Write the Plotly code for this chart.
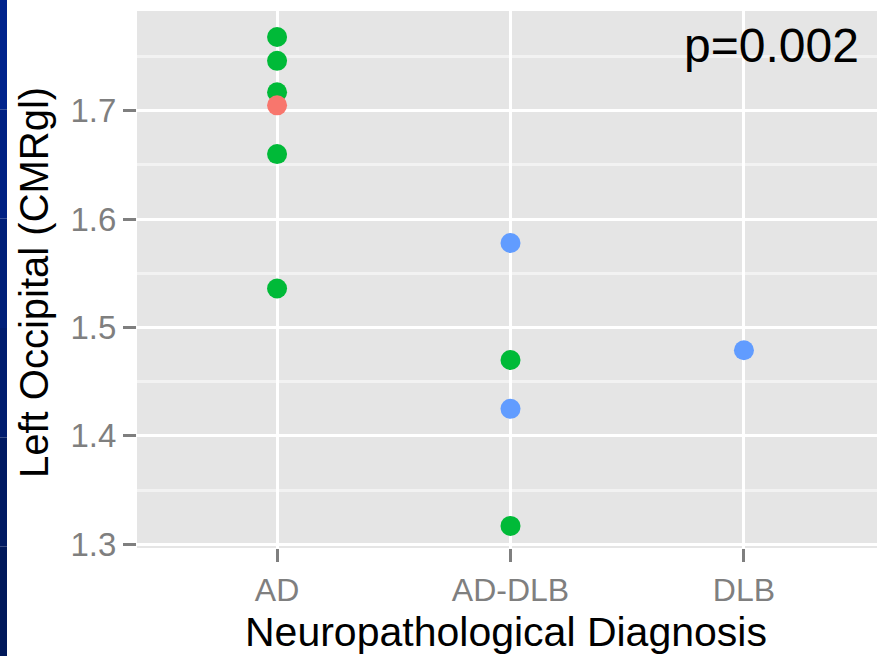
import plotly.graph_objects as go

# ---- data ----
categories = ["AD", "AD-DLB", "DLB"]

green_dx = ["AD", "AD", "AD", "AD", "AD", "AD-DLB", "AD-DLB"]
green_val = [1.768, 1.746, 1.717, 1.660, 1.536, 1.470, 1.317]

blue_dx = ["AD-DLB", "AD-DLB", "DLB"]
blue_val = [1.578, 1.425, 1.479]

red_dx = ["AD"]
red_val = [1.705]

y_ticks = [1.3, 1.4, 1.5, 1.6, 1.7]
y_tick_labels = ["1.3", "1.4", "1.5", "1.6", "1.7"]

p_label = "p=0.002"
x_title = "Neuropathological Diagnosis"
y_title = "Left Occipital (CMRgl)"

FONT = "Arial, Liberation Sans, sans-serif"
W, H = 877, 656
L, R, T, B = 137, 0, 11, 108
PW, PH = W - L - R, H - T - B


def px_x(px):
    return (px - L) / PW


def px_y(py):
    return (H - B - py) / PH


fig = go.Figure()
marker_size = 20
fig.add_trace(go.Scatter(x=green_dx, y=green_val, mode="markers",
                         marker=dict(color="#00BA38", size=marker_size, line=dict(width=0)),
                         showlegend=False, cliponaxis=False))
fig.add_trace(go.Scatter(x=blue_dx, y=blue_val, mode="markers",
                         marker=dict(color="#619CFF", size=marker_size, line=dict(width=0)),
                         showlegend=False, cliponaxis=False))
fig.add_trace(go.Scatter(x=red_dx, y=red_val, mode="markers",
                         marker=dict(color="#F8766D", size=marker_size, line=dict(width=0)),
                         showlegend=False, cliponaxis=False))

fig.update_layout(
    width=W, height=H,
    margin=dict(l=L, r=R, t=T, b=B, pad=0),
    paper_bgcolor="white",
    plot_bgcolor="#E5E5E5",
    font=dict(family=FONT),
    showlegend=False,
)

fig.update_xaxes(
    type="category",
    categoryorder="array", categoryarray=categories,
    range=[-0.6, 2.57],
    showgrid=True, gridcolor="white", gridwidth=3,
    zeroline=False, showline=False,
    ticks="outside", ticklen=13, tickwidth=3, tickcolor="#7F7F7F",
    tickfont=dict(size=32, color="#7F7F7F", family=FONT),
    ticklabelstandoff=1,
)

fig.update_yaxes(
    range=[1.2966, 1.792],
    tickvals=y_ticks, ticktext=y_tick_labels,
    showgrid=True, gridcolor="white", gridwidth=3,
    zeroline=False, showline=False,
    ticks="outside", ticklen=13, tickwidth=3, tickcolor="#7F7F7F",
    tickfont=dict(size=33, color="#7F7F7F", family=FONT),
    ticklabelstandoff=0,
    minor=dict(tick0=1.25, dtick=0.05, showgrid=True, gridcolor="#F2F2F2",
               gridwidth=3, ticks=""),
)

# dark blue slide strip at the left edge
strip_colors = ["#00238C", "#002183", "#001F79", "#001C6E", "#001A62", "#00185A"]
n = len(strip_colors)
for i, c in enumerate(strip_colors):
    y0 = -B + (H) * (n - 1 - i) / n
    y1 = -B + (H) * (n - i) / n
    fig.add_shape(type="rect", xref="paper", yref="paper",
                  xsizemode="pixel", ysizemode="pixel",
                  xanchor=0, yanchor=0,
                  x0=-L, x1=-L + 7, y0=y0, y1=y1,
                  fillcolor=c, line=dict(width=0), layer="above")

fig.add_annotation(text=p_label, xref="paper", yref="paper",
                   x=px_x(861), y=px_y(45), xanchor="right", yanchor="middle",
                   showarrow=False, font=dict(size=48, color="black", family=FONT))
fig.add_annotation(text=x_title, xref="paper", yref="paper",
                   x=px_x(506), y=px_y(632), xanchor="center", yanchor="middle",
                   showarrow=False, font=dict(size=41, color="black", family=FONT))
fig.add_annotation(text=y_title, xref="paper", yref="paper", textangle=-90,
                   x=px_x(34), y=px_y(283), xanchor="center", yanchor="middle",
                   showarrow=False, font=dict(size=40, color="black", family=FONT))

fig.write_html("out.html", config={"displayModeBar": False},
               post_script="document.body.style.margin='0';")
